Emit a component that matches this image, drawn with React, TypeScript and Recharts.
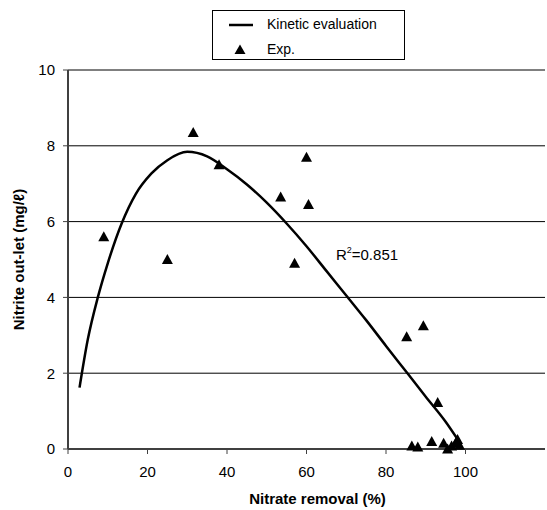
import React from 'react';
import {
  ComposedChart,
  Line,
  Scatter,
  XAxis,
  YAxis,
  CartesianGrid,
  ReferenceDot,
} from 'recharts';

// kinetic model curve
const kineticX = [2.9, 5, 7.5, 10, 13.5, 17, 21, 25, 30, 35, 40, 45, 50, 55, 60, 65, 70, 75, 80, 85, 90, 95, 98.5];
const kineticY = [1.62, 2.9, 4.0, 4.9, 5.95, 6.72, 7.27, 7.62, 7.84, 7.72, 7.38, 6.98, 6.5, 5.95, 5.35, 4.7, 4.05, 3.4, 2.72, 2.05, 1.38, 0.72, 0.18];

// experimental points
const expX = [9, 25, 31.5, 38, 53.5, 57, 60, 60.5, 85.2, 89.4, 93, 86.5, 88, 91.5, 94.5, 95.5, 96.5, 97.5, 98, 98.5];
const expY = [5.6, 5.0, 8.35, 7.5, 6.65, 4.9, 7.7, 6.45, 2.96, 3.25, 1.23, 0.08, 0.05, 0.2, 0.15, 0.0, 0.08, 0.15, 0.25, 0.1];

const xTicks = [0, 20, 40, 60, 80, 100];
const yTicks = [0, 2, 4, 6, 8, 10];

const kinetic = kineticX.map((x, i) => ({ x, y: kineticY[i] }));
const exp = expX.map((x, i) => ({ x, y: expY[i] }));

const FONT = '"Liberation Sans", Arial, sans-serif';

const Triangle = (props: any) => {
  const { cx, cy } = props;
  if (cx == null || cy == null) return null;
  return <polygon points={`${cx},${cy - 5.5} ${cx - 5.5},${cy + 4.5} ${cx + 5.5},${cy + 4.5}`} fill="#000" />;
};

const LegendBox = () => (
  <div
    style={{
      position: 'absolute',
      left: 212,
      top: 10,
      width: 191,
      height: 48,
      border: '1px solid #000',
      background: '#fff',
      fontFamily: FONT,
      fontSize: 14,
      color: '#000',
    }}
  >
    <svg width={40} height={48} style={{ position: 'absolute', left: 0, top: 0 }}>
      <line x1={16} y1={14} x2={41} y2={14} stroke="#000" strokeWidth={2.5} />
      <polygon points="27,33.5 21.5,43 32.5,43" fill="#000" />
    </svg>
    <div style={{ position: 'absolute', left: 54, top: 5 }}>Kinetic evaluation</div>
    <div style={{ position: 'absolute', left: 54, top: 30 }}>Exp.</div>
  </div>
);

const R2Label = (props: any) => {
  const { viewBox } = props;
  return (
    <text x={viewBox.x} y={viewBox.y} fontFamily={FONT} fontSize={15} fill="#000">
      R<tspan fontSize={9} dy={-7}>2</tspan>
      <tspan dy={7}>=0.851</tspan>
    </text>
  );
};

export default function App() {
  return (
    <div style={{ position: 'absolute', left: 0, top: 0, width: 547, height: 510, background: '#fff' }}>
      <ComposedChart width={547} height={510} margin={{ top: 70, right: 2, bottom: 0, left: 0 }}>
        <CartesianGrid horizontal vertical={false} stroke="#000" strokeWidth={1} />
        <XAxis
          type="number"
          dataKey="x"
          domain={[0, 120]}
          ticks={xTicks}
          height={61}
          tickSize={5}
          tick={{ fontSize: 15, fill: '#000', fontFamily: FONT, dy: 10 }}
          axisLine={{ stroke: '#404040', strokeWidth: 2 }}
          tickLine={{ stroke: '#404040' }}
          label={{
            value: 'Nitrate removal (%)',
            position: 'insideBottom',
            offset: 6,
            dx: 11,
            style: { fontSize: 15, fontWeight: 'bold', fill: '#000', fontFamily: FONT },
          }}
        />
        <YAxis
          type="number"
          dataKey="y"
          domain={[0, 10]}
          ticks={yTicks}
          width={68}
          tickSize={5}
          tick={{ fontSize: 15, fill: '#000', fontFamily: FONT, dx: -6 }}
          axisLine={{ stroke: '#404040', strokeWidth: 2 }}
          tickLine={{ stroke: '#404040' }}
          label={{
            value: 'Nitrite out-let (mg/ℓ)',
            angle: -90,
            position: 'insideLeft',
            offset: 19,
            style: { fontSize: 15, fontWeight: 'bold', fill: '#000', fontFamily: FONT, textAnchor: 'middle' },
          }}
        />
        <Line
          data={kinetic}
          dataKey="y"
          type="monotone"
          stroke="#000"
          strokeWidth={2.5}
          dot={false}
          activeDot={false}
          isAnimationActive={false}
          name="Kinetic evaluation"
        />
        <Scatter data={exp} dataKey="y" shape={<Triangle />} isAnimationActive={false} name="Exp." />
        <ReferenceDot x={67.4} y={5.0} r={0} stroke="none" label={<R2Label />} />
      </ComposedChart>
      <LegendBox />
    </div>
  );
}
